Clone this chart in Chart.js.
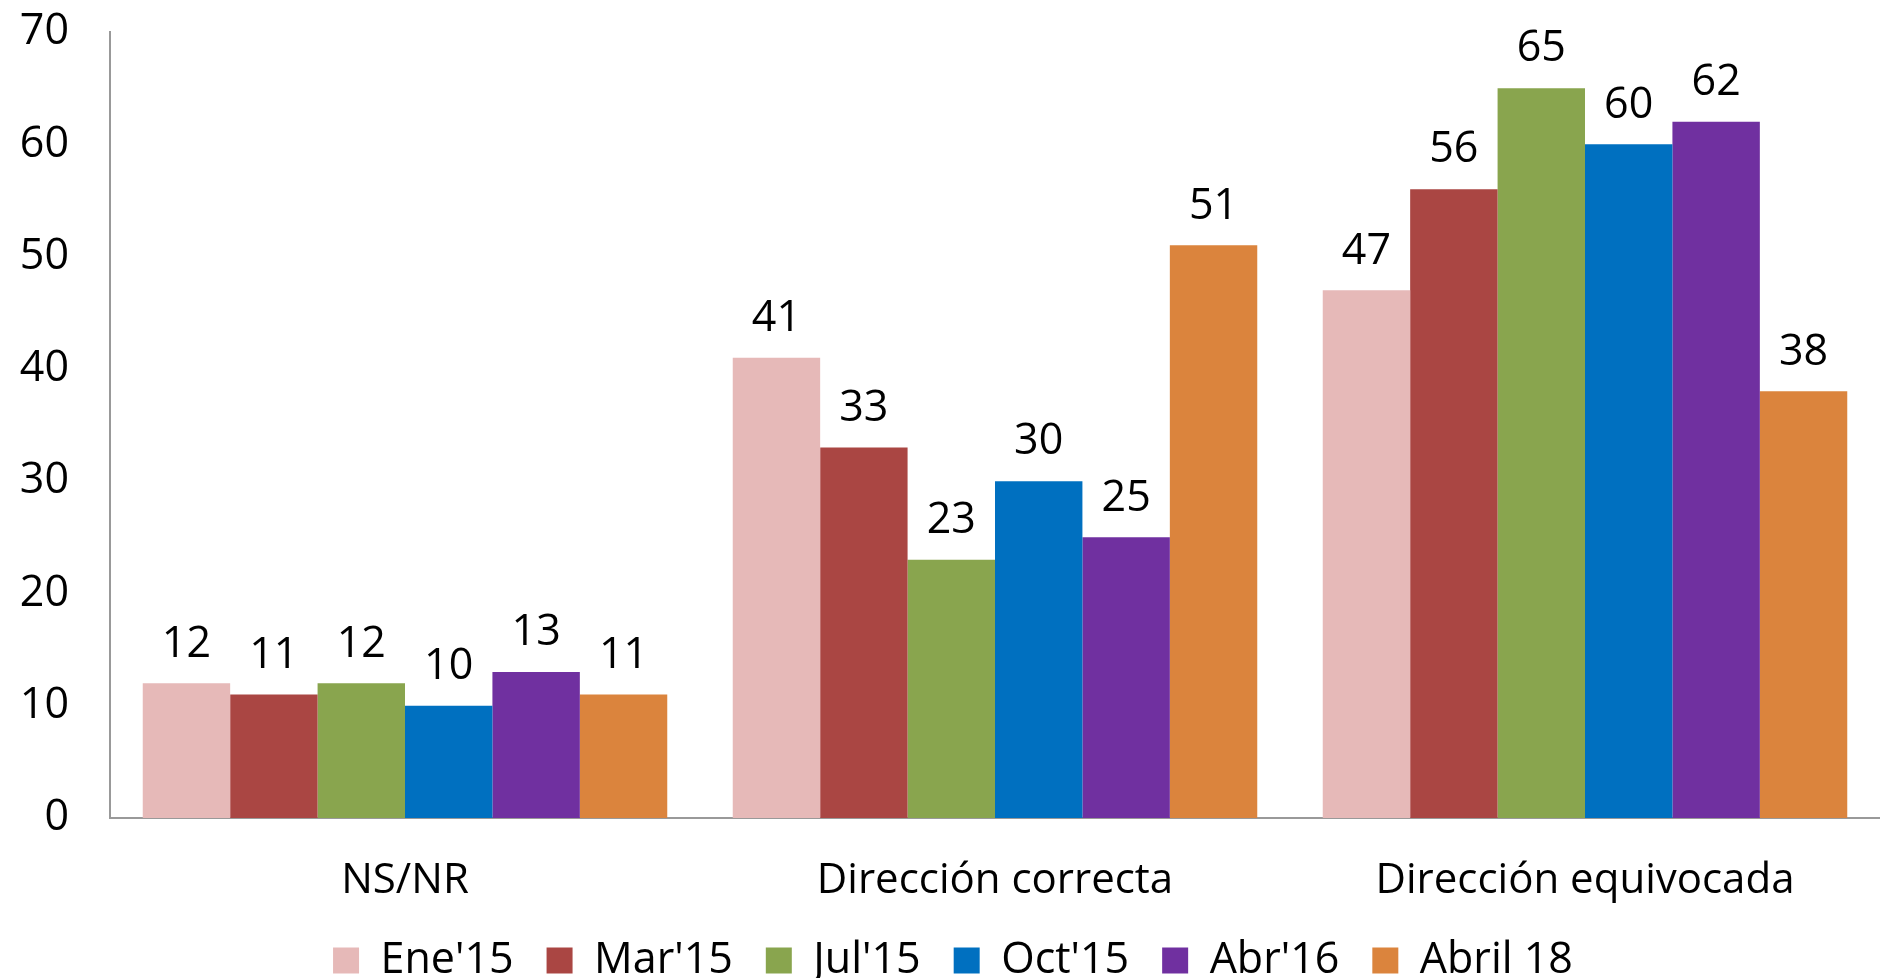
<!DOCTYPE html>
<html>
<head>
<meta charset="utf-8">
<script src="https://cdn.jsdelivr.net/npm/chart.js@4.4.1/dist/chart.umd.min.js"></script>
<style>
  html, body { margin: 0; padding: 0; background: #fff; }
  #wrap { width: 1880px; height: 978px; position: relative; }
</style>
</head>
<body>
<div id="wrap"><canvas id="chart"></canvas></div>
<script>
// Data
const categories = ["NS/NR", "Dirección correcta", "Dirección equivocada"];
const seriesNames = ["Ene'15", "Mar'15", "Jul'15", "Oct'15", "Abr'16", "Abril 18"];
const ene15 = [12, 41, 47];
const mar15 = [11, 33, 56];
const jul15 = [12, 23, 65];
const oct15 = [10, 30, 60];
const abr16 = [13, 25, 62];
const abril18 = [11, 51, 38];
const yTicks = [0, 10, 20, 30, 40, 50, 60, 70];

const colors = ["#E6B9B8", "#AA4643", "#89A54E", "#0070C0", "#7030A0", "#DB843D"];
const FONT = "'Open Sans', sans-serif";

// value labels above bars
const valueLabels = {
  id: "valueLabels",
  afterDatasetsDraw(chart) {
    const ctx = chart.ctx;
    ctx.save();
    ctx.font = "43px " + FONT;
    ctx.fillStyle = "#000";
    ctx.textAlign = "center";
    ctx.textBaseline = "middle";
    chart.data.datasets.forEach((ds, i) => {
      const meta = chart.getDatasetMeta(i);
      meta.data.forEach((bar, j) => {
        ctx.fillText(ds.data[j], bar.x, bar.y - 39);
      });
    });
    ctx.restore();
  },
};

const allSeries = [ene15, mar15, jul15, oct15, abr16, abril18];

new Chart(document.getElementById("chart"), {
  type: "bar",
  data: {
    labels: categories,
    datasets: allSeries.map((vals, i) => ({
      label: seriesNames[i],
      data: vals,
      backgroundColor: colors[i],
      borderWidth: 0,
      categoryPercentage: 0.889,
      barPercentage: 1.0,
    })),
  },
  options: {
    responsive: true,
    maintainAspectRatio: false,
    animation: false,
    layout: { padding: { left: 17, right: -9, top: 32, bottom: -14 } },
    plugins: {
      tooltip: { enabled: false },
      legend: {
        position: "bottom",
        labels: {
          font: { family: FONT, size: 43 },
          color: "#000",
          boxWidth: 26,
          boxHeight: 26,
          padding: 33,
        },
      },
    },
    scales: {
      x: {
        grid: { display: false, drawTicks: false },
        border: { color: "#999", width: 2 },
        ticks: { font: { family: FONT, size: 42 }, color: "#000", padding: 38 },
        afterFit: (axis) => {
          axis.height = 88;
        },
      },
      y: {
        min: 0,
        max: 70,
        afterBuildTicks: (axis) => {
          axis.ticks = yTicks.map((v) => ({ value: v }));
        },
        grid: { display: false, drawTicks: false },
        border: { color: "#999", width: 2 },
        ticks: { font: { family: FONT, size: 43 }, color: "#000", padding: 41 },
        afterFit: (axis) => {
          axis.width = 93;
          axis.paddingTop = 0;
          axis.paddingBottom = 0;
        },
      },
    },
  },
  plugins: [valueLabels],
});
</script>
</body>
</html>
